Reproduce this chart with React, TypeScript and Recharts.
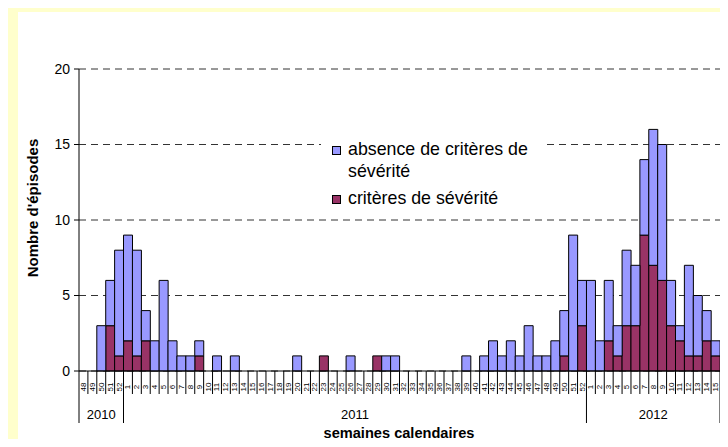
import React from "react";
import { BarChart, Bar, XAxis, YAxis, CartesianGrid } from "recharts";

const weeks2010 = ["48", "49", "50", "51", "52"];
const weeks2011 = [
  "1", "2", "3", "4", "5", "6", "7", "8", "9", "10", "11", "12", "13", "14", "15", "16", "17", "18",
  "19", "20", "21", "22", "23", "24", "25", "26", "27", "28", "29", "30", "31", "32", "33", "34", "35",
  "36", "37", "38", "39", "40", "41", "42", "43", "44", "45", "46", "47", "48", "49", "50", "51", "52",
];
const weeks2012 = ["1", "2", "3", "4", "5", "6", "7", "8", "9", "10", "11", "12", "13", "14", "15"];

// critères de sévérité
const severe2010 = [0, 0, 0, 3, 1];
const severe2011 = [
  2, 1, 2, 0, 0, 0, 0, 0, 1, 0,
  0, 0, 0, 0, 0, 0, 0, 0, 0, 0,
  0, 0, 1, 0, 0, 0, 0, 0, 1, 0,
  0, 0, 0, 0, 0, 0, 0, 0, 0, 0,
  0, 0, 0, 0, 0, 0, 0, 0, 0, 1,
  0, 3,
];
const severe2012 = [0, 0, 2, 1, 3, 3, 9, 7, 6, 3, 2, 1, 1, 2, 1];

// absence de critères de sévérité
const absence2010 = [0, 0, 3, 3, 7];
const absence2011 = [
  7, 7, 2, 2, 6, 2, 1, 1, 1, 0,
  1, 0, 1, 0, 0, 0, 0, 0, 0, 1,
  0, 0, 0, 0, 0, 1, 0, 0, 0, 1,
  1, 0, 0, 0, 0, 0, 0, 0, 1, 0,
  1, 2, 1, 2, 1, 3, 1, 1, 2, 3,
  9, 3,
];
const absence2012 = [6, 2, 4, 2, 5, 4, 5, 9, 9, 3, 1, 6, 4, 2, 1];

const yTicks = [0, 5, 10, 15, 20];

const groups = [
  { year: "2010", weeks: weeks2010, severe: severe2010, absence: absence2010 },
  { year: "2011", weeks: weeks2011, severe: severe2011, absence: absence2011 },
  { year: "2012", weeks: weeks2012, severe: severe2012, absence: absence2012 },
];

const rows = groups.flatMap((g) =>
  g.weeks.map((w, i) => ({
    key: `${g.year}-${w}`,
    year: g.year,
    week: w,
    severe: g.severe[i],
    absence: g.absence[i],
    groupSize: g.weeks.length,
  }))
);

const FONT = "'Liberation Sans', Arial, sans-serif";
const W = 710;
const H = 435;
const M = { top: 57, right: 8, left: 0, bottom: 0 };
const Y_W = 61;
const X_H = 76;
const BAND = (W - M.left - M.right - Y_W) / rows.length;

function WeekTick(props: any) {
  const { x, y, index } = props;
  const row = rows[index];
  if (!row) return null;
  const left = x - BAND / 2;
  const first = index === 0 || rows[index - 1].year !== row.year;
  const last = index === rows.length - 1;
  return (
    <g fontFamily={FONT}>
      <line x1={left} y1={y} x2={left} y2={y + (first ? 52 : 23)} stroke="#000" strokeWidth={1} />
      {last && <line x1={x + BAND / 2} y1={y} x2={x + BAND / 2} y2={y + 52} stroke="#000" strokeWidth={1} />}
      <text
        x={x}
        y={y + 16}
        transform={`rotate(-90 ${x} ${y + 16})`}
        textAnchor="middle"
        dominantBaseline="central"
        fontSize={8}
        fill="#000"
      >
        {row.week}
      </text>
      {first && (
        <text
          x={left + (row.groupSize * BAND) / 2}
          y={y + 43}
          textAnchor="middle"
          dominantBaseline="central"
          fontSize={13}
          fill="#000"
        >
          {row.year}
        </text>
      )}
    </g>
  );
}

function LegendBox({ color }: { color: string }) {
  return (
    <span
      style={{
        display: "inline-block",
        width: 7,
        height: 7,
        background: color,
        border: "1px solid #000",
        marginRight: 7,
      }}
    />
  );
}

export default function App() {
  return (
    <div style={{ position: "relative", width: 728, height: 447, margin: -8, background: "#FFFFCC", fontFamily: FONT }}>
      <div style={{ position: "absolute", left: 18, top: 12, width: W, height: H, background: "#fff" }}>
        <BarChart width={W} height={H} data={rows} margin={M} barCategoryGap={0} barGap={0}>
          <CartesianGrid vertical={false} stroke="#333" strokeDasharray="7 5" />
          <XAxis
            dataKey="key"
            interval={0}
            height={X_H}
            tickSize={0}
            tickMargin={0}
            tickLine={false}
            axisLine={{ stroke: "#000" }}
            tick={<WeekTick />}
          />
          <YAxis
            width={Y_W}
            domain={[0, 20]}
            ticks={yTicks}
            tickSize={5}
            tickMargin={4}
            axisLine={{ stroke: "#000" }}
            tickLine={{ stroke: "#000" }}
            tick={{ fill: "#000", fontSize: 14, fontFamily: FONT }}
          />
          <Bar dataKey="severe" stackId="a" fill="#993366" stroke="#000" strokeWidth={1} isAnimationActive={false} />
          <Bar dataKey="absence" stackId="a" fill="#9999FF" stroke="#000" strokeWidth={1} isAnimationActive={false} />
        </BarChart>
        <div
          style={{
            position: "absolute",
            left: 14,
            top: 196,
            transform: "translate(-50%, -50%) rotate(-90deg)",
            fontWeight: "bold",
            fontSize: 15,
            whiteSpace: "nowrap",
          }}
        >
          Nombre d'épisodes
        </div>
        <div
          style={{
            position: "absolute",
            left: 381,
            top: 421,
            transform: "translate(-50%, -50%)",
            fontWeight: "bold",
            fontSize: 14.6,
            whiteSpace: "nowrap",
          }}
        >
          semaines calendaires
        </div>
        <div
          style={{
            position: "absolute",
            left: 303,
            top: 118,
            width: 224,
            height: 82,
            boxSizing: "border-box",
            paddingLeft: 11,
            paddingTop: 8,
            background: "#fff",
            fontSize: 17.8,
            lineHeight: "22px",
            color: "#000",
          }}
        >
          <div style={{ whiteSpace: "nowrap" }}>
            <LegendBox color="#9999FF" />
            absence de critères de
          </div>
          <div style={{ paddingLeft: 16 }}>sévérité</div>
          <div style={{ whiteSpace: "nowrap", marginTop: 5 }}>
            <LegendBox color="#993366" />
            critères de sévérité
          </div>
        </div>
      </div>
    </div>
  );
}
